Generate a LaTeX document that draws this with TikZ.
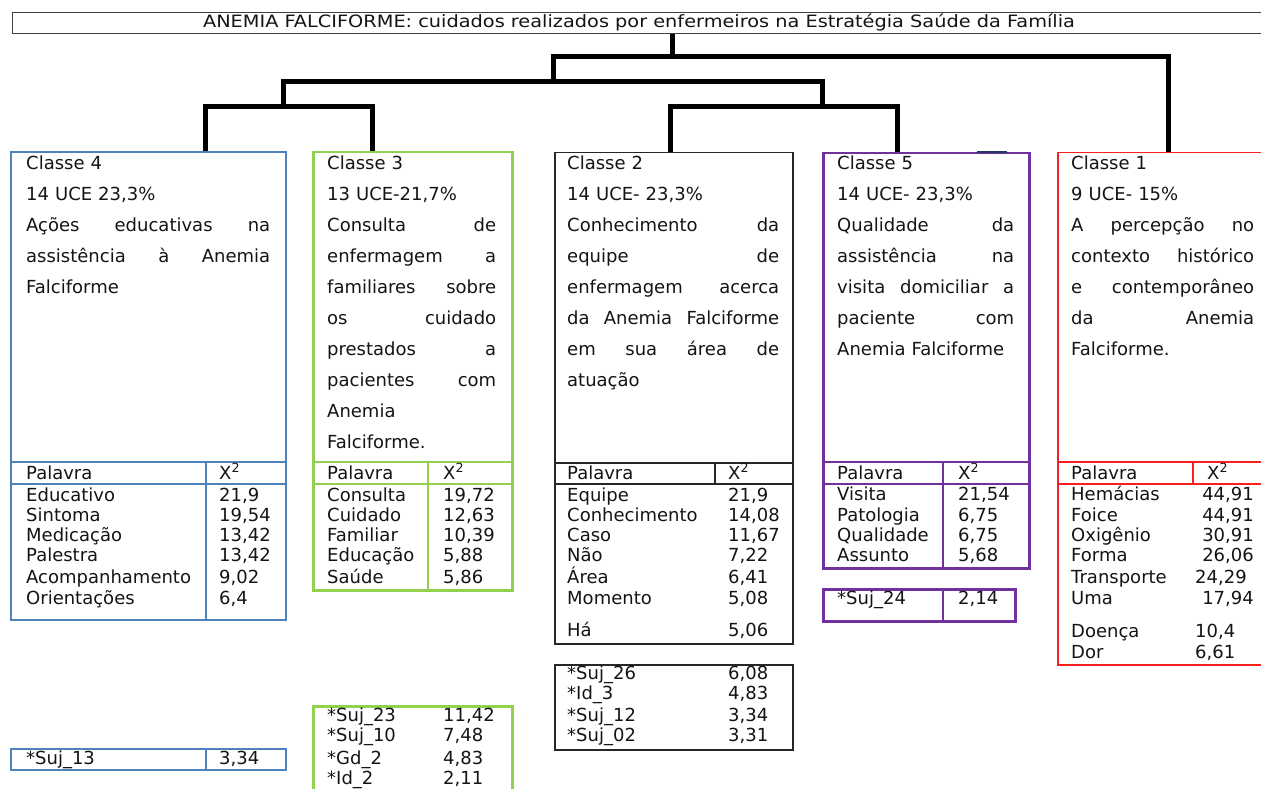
\documentclass[tikz,border=0pt]{standalone}
\usepackage{fontspec}
\setmainfont{DejaVu Sans}
\usepackage{graphicx}
\usepackage{tikz}
\usetikzlibrary{positioning}

\definecolor{azul}{RGB}{79,129,189}
\definecolor{verde}{RGB}{146,208,80}
\definecolor{roxo}{RGB}{112,48,160}
\definecolor{verm}{RGB}{250,30,30}
\definecolor{marinho}{RGB}{31,56,100}
\definecolor{tinta}{RGB}{20,20,20}
\newcommand{\hdrfont}{\fontsize{18}{30.9}\selectfont}
\newcommand{\celfont}{\fontsize{18}{20}\selectfont}
\newcommand{\titfont}{\fontsize{17}{18}\selectfont}
\newcommand{\jl}[2]{\makebox[#1]{#2}}

\begin{document}
\begin{tikzpicture}[x=1pt,y=-1pt,
      hdr/.style={anchor=base west,inner sep=0pt,text width=#1,align=left,font=\hdrfont,text=tinta},
      cel/.style={anchor=base west,inner sep=0pt,font=\celfont,text=tinta},
      frame/.style={draw=#1,line width=2pt,inner sep=0pt,anchor=north west},
      grid/.style={draw=#1,line width=2pt},
      tree/.style={line width=5pt}]
    \clip (0,0) rectangle (1261,789);
    % titulo
    \node[draw=black!75,line width=1pt,inner sep=0pt,anchor=north west,minimum width=1260pt,minimum height=21pt] (tit) at (12,12) {};
    \node[font=\titfont,text=tinta,inner sep=0pt] (titl) at (639,22) {\scalebox{1.136}[1]{ANEMIA FALCIFORME: cuidados realizados por enfermeiros na Estratégia Saúde da Família}};
    % caixas das classes
    \node[frame=azul,minimum width=275pt,minimum height=468pt] (k4) at (10,151) {};
    \node[frame=verde,line width=2.5pt,minimum width=199pt,minimum height=438pt] (k3) at (312,151) {};
    \node[frame=black!85,line width=1.5pt,minimum width=238pt,minimum height=491pt] (k2) at (554,152) {};
    \node[frame=roxo,line width=2.5pt,minimum width=206pt,minimum height=415pt] (k5) at (822,152) {};
    \node[frame=verm,line width=1.5pt,minimum width=218pt,minimum height=512pt] (k1) at (1057,152) {};
    \draw[marinho,line width=2.5pt] (977,152) -- (1007,152);
    % dendrograma
    \coordinate (g0) at (672,57);
    \coordinate (g1) at (553,57); \coordinate (g2) at (1168,57);
    \coordinate (h1) at (283,82); \coordinate (h2) at (822,82);
    \coordinate (p4) at (205,107); \coordinate (p3) at (372,107);
    \coordinate (p2) at (670,107); \coordinate (p5) at (897,107);
    \draw[tree] (tit.south -| g0) -- (g0);
    \draw[tree] (g1 |- h1) -- (g1) -- (g2) -- (g2 |- k1.north);
    \draw[tree] (h1 |- p4) -- (h1) -- (h2) -- (h2 |- p2);
    \draw[tree] (p4 |- k4.north) -- (p4) -- (p3) -- (p3 |- k3.north);
    \draw[tree] (p2 |- k2.north) -- (p2) -- (p5) -- (p5 |- k5.north);
    % textos das classes
    \node[hdr=244pt] (t4) at (26,170) {Classe 4\\14 UCE 23,3\%\\\jl{244pt}{Ações\hfill educativas\hfill na}\\\jl{244pt}{assistência\hfill à\hfill Anemia}\\Falciforme};
    \node[hdr=169pt] (t3) at (327,170) {Classe 3\\13 UCE-21,7\%\\\jl{169pt}{Consulta\hfill de}\\\jl{169pt}{enfermagem\hfill a}\\\jl{169pt}{familiares\hfill sobre}\\\jl{169pt}{os\hfill cuidado}\\\jl{169pt}{prestados\hfill a}\\\jl{169pt}{pacientes\hfill com}\\Anemia\\Falciforme.};
    \node[hdr=212pt] (t2) at (567,170) {Classe 2\\14 UCE- 23,3\%\\\jl{212pt}{Conhecimento\hfill da}\\\jl{212pt}{equipe\hfill de}\\\jl{212pt}{enfermagem\hfill acerca}\\\jl{212pt}{da\hfill Anemia\hfill Falciforme}\\\jl{212pt}{em\hfill sua\hfill área\hfill de}\\atuação};
    \node[hdr=177pt] (t5) at (837,170) {Classe 5\\14 UCE- 23,3\%\\\jl{177pt}{Qualidade\hfill da}\\\jl{177pt}{assistência\hfill na}\\\jl{177pt}{visita\hfill domiciliar\hfill a}\\\jl{177pt}{paciente\hfill com}\\Anemia Falciforme};
    \node[hdr=183pt] (t1) at (1071,170) {Classe 1\\9 UCE- 15\%\\\jl{183pt}{A\hfill percepção\hfill no}\\\jl{183pt}{contexto\hfill histórico}\\\jl{183pt}{e\hfill contemporâneo}\\\jl{183pt}{da\hfill Anemia}\\Falciforme.};
    % tabelas
    \draw[grid=azul] (10,462) -- (285,462) (10,484) -- (285,484) (206,462) -- (206,619);
    \draw[grid=verde,line width=2.5pt] (312,462) -- (511,462) (312,484) -- (511,484) (428,462) -- (428,589);
    \draw[grid=black!85,line width=1.5pt] (554,463) -- (792,463) (554,484) -- (792,484) (715,463) -- (715,484);
    \draw[grid=roxo] (822,462) -- (1028,462) (822,484) -- (1028,484) (943,462) -- (943,567);
    \draw[grid=verm,line width=1.5pt] (1057,462) -- (1261,462) (1057,484) -- (1261,484) (1193,462) -- (1193,484);
    \foreach \c/\xw/\xv in {4/26/219,3/327/443,2/567/728,5/837/958,1/1071/1207} {
      \node[cel] (pal\c) at (\xw,479) {Palavra};
      \node[cel] (chi\c) at (\xv,479) {X\textsuperscript{2}};
    }
    \foreach \w/\v/\y [count=\i] in {Educativo/{21,9}/501,Sintoma/{19,54}/521,Medicação/{13,42}/541,Palestra/{13,42}/561,Acompanhamento/{9,02}/583,Orientações/{6,4}/604} {
      \node[cel] (w4\i) at (26,\y) {\w};
      \node[cel] (v4\i) at (219,\y) {\v};
    }
    \foreach \w/\v/\y [count=\i] in {Consulta/{19,72}/501,Cuidado/{12,63}/521,Familiar/{10,39}/541,Educação/{5,88}/561,Saúde/{5,86}/583} {
      \node[cel] (w3\i) at (327,\y) {\w};
      \node[cel] (v3\i) at (443,\y) {\v};
    }
    \foreach \w/\v/\y [count=\i] in {Equipe/{21,9}/501,Conhecimento/{14,08}/521,Caso/{11,67}/541,Não/{7,22}/561,Área/{6,41}/583,Momento/{5,08}/604,Há/{5,06}/636} {
      \node[cel] (w2\i) at (567,\y) {\w};
      \node[cel] (v2\i) at (728,\y) {\v};
    }
    \foreach \w/\v/\y [count=\i] in {Visita/{21,54}/500,Patologia/{6,75}/521,Qualidade/{6,75}/541,Assunto/{5,68}/561} {
      \node[cel] (w5\i) at (837,\y) {\w};
      \node[cel] (v5\i) at (958,\y) {\v};
    }
    \foreach \w/\y [count=\i] in {Hemácias/500,Foice/521,Oxigênio/541,Forma/561,Transporte/583,Uma/604,Doença/637,Dor/658}
      \node[cel] (w1\i) at (1071,\y) {\w};
    \foreach \v/\y [count=\i] in {{44,91}/500,{44,91}/521,{30,91}/541,{26,06}/561,{17,94}/604}
      \node[cel,anchor=base east] (v1\i) at (1254,\y) {\v};
    \foreach \v/\y [count=\i] in {{24,29}/583,{10,4}/637,{6,61}/658}
      \node[cel] (u1\i) at (1195,\y) {\v};
    % sujeitos
    \node[frame=azul,minimum width=275pt,minimum height=21pt] (s4) at (10,748) {};
    \draw[grid=azul] (206,748) -- (206,769);
    \node[cel] (s4w) at (26,764) {*Suj\_13};
    \node[cel] (s4v) at (219,764) {3,34};
    \node[frame=verde,line width=2.5pt,minimum width=199pt,minimum height=100pt] (s3) at (312,705) {};
    \foreach \w/\v/\y [count=\i] in {*Suj\_23/{11,42}/721,*Suj\_10/{7,48}/741,*Gd\_2/{4,83}/764,*Id\_2/{2,11}/784} {
      \node[cel] (j3\i) at (327,\y) {\w};
      \node[cel] (q3\i) at (443,\y) {\v};
    }
    \node[frame=black!85,line width=1.5pt,minimum width=238pt,minimum height=85pt] (s2) at (554,664) {};
    \foreach \w/\v/\y [count=\i] in {*Suj\_26/{6,08}/679,*Id\_3/{4,83}/699,*Suj\_12/{3,34}/721,*Suj\_02/{3,31}/741} {
      \node[cel] (j2\i) at (567,\y) {\w};
      \node[cel] (q2\i) at (728,\y) {\v};
    }
    \node[frame=roxo,line width=2.5pt,minimum width=192pt,minimum height=32pt] (s5) at (822,588) {};
    \draw[grid=roxo] (943,588) -- (943,620);
    \node[cel] (s5w) at (837,604) {*Suj\_24};
    \node[cel] (s5v) at (958,604) {2,14};
  \end{tikzpicture}
\end{document}
